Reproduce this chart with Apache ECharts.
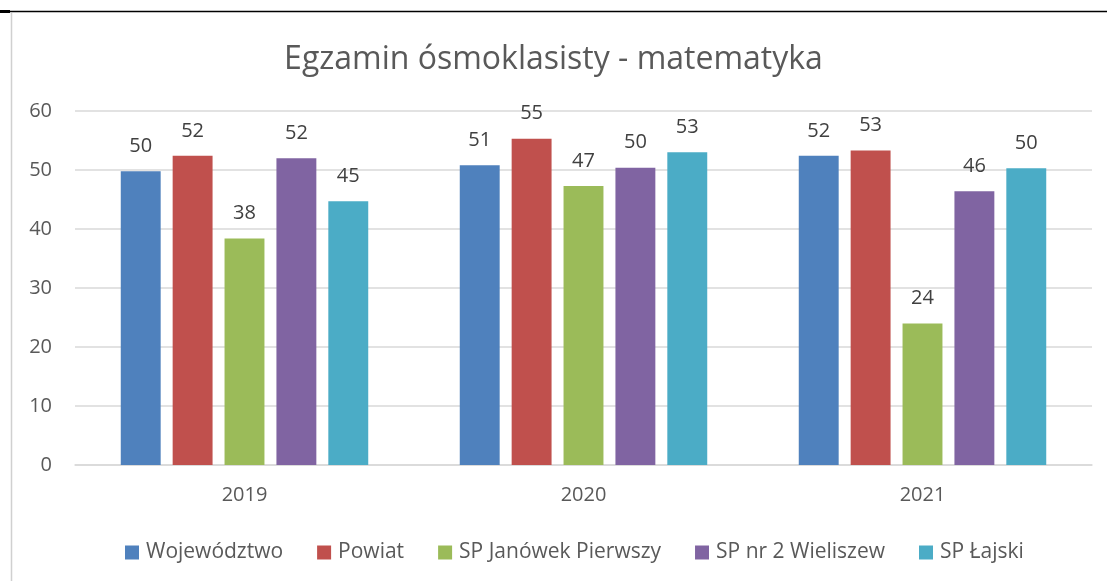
<!DOCTYPE html>
<html>
<head>
<meta charset="utf-8">
<script src="https://cdn.jsdelivr.net/npm/echarts@6/dist/echarts.min.js"></script>
<style>
  html, body { margin: 0; padding: 0; background: #fff; }
  #wykres { width: 1107px; height: 581px; }
</style>
</head>
<body>
<div id="wykres"></div>
<script>
const lata = ['2019', '2020', '2021']
const wojewodztwo = [49.8, 50.8, 52.4]
const powiat = [52.4, 55.3, 53.3]
const janowek = [38.4, 47.3, 24.0]
const wieliszew = [52.0, 50.4, 46.4]
const lajski = [44.7, 53.0, 50.3]
const tickiY = [0, 10, 20, 30, 40, 50, 60]

const nazwySerii = ['Województwo', 'Powiat', 'SP Janówek Pierwszy', 'SP nr 2 Wieliszew', 'SP Łajski']
const daneSerii = [wojewodztwo, powiat, janowek, wieliszew, lajski]
const kolory = ['#4F81BD', '#C0504D', '#9BBB59', '#8064A2', '#4BACC6']
const czcionka = '"Open Sans", "Liberation Sans", sans-serif'

const miGrafico = echarts.init(document.getElementById('wykres'))

const opciones = {
  animation: false,
  textStyle: { fontFamily: czcionka },
  title: {
    text: 'Egzamin ósmoklasisty - matematyka',
    left: 'center',
    top: 39,
    textStyle: { fontSize: 32, fontWeight: 'normal', color: '#595959', fontFamily: czcionka }
  },
  legend: {
    data: nazwySerii,
    top: 537,
    left: 120,
    itemWidth: 14,
    itemHeight: 14,
    itemGap: 34,
    icon: 'rect',
    textStyle: { fontSize: 21, color: '#595959', fontFamily: czcionka, padding: [0, 0, 0, 2] }
  },
  grid: { left: 75, right: 15, top: 111, bottom: 116 },
  xAxis: {
    type: 'category',
    data: lata,
    axisLine: { lineStyle: { color: '#D9D9D9', width: 1.5 } },
    axisTick: { show: false },
    axisLabel: { fontSize: 20, color: '#595959', margin: 20 }
  },
  yAxis: {
    type: 'value',
    min: tickiY[0],
    max: tickiY[tickiY.length - 1],
    interval: 10,
    axisLine: { show: false },
    axisTick: { show: false },
    axisLabel: { fontSize: 20, color: '#595959', margin: 23 },
    splitLine: { lineStyle: { color: '#D9D9D9', width: 1.5 } }
  },
  series: nazwySerii.map((nazwa, i) => ({
    name: nazwa,
    type: 'bar',
    data: daneSerii[i],
    barGap: '30%',
    barCategoryGap: '27%',
    itemStyle: { color: kolory[i] },
    label: {
      show: true,
      position: 'top',
      distance: 15,
      fontSize: 20,
      color: '#404040',
      formatter: p => Math.round(p.value)
    }
  })),
  graphic: [
    { type: 'line', shape: { x1: 0, y1: 11.5, x2: 1107, y2: 11.5 }, style: { stroke: '#000', lineWidth: 1.5 } },
    { type: 'rect', shape: { x: 0, y: 10, width: 10, height: 3 }, style: { fill: '#000' } },
    { type: 'line', shape: { x1: 11.5, y1: 13, x2: 11.5, y2: 581 }, style: { stroke: '#D0D0D0', lineWidth: 1.5 } }
  ]
}

miGrafico.setOption(opciones)
</script>
</body>
</html>
